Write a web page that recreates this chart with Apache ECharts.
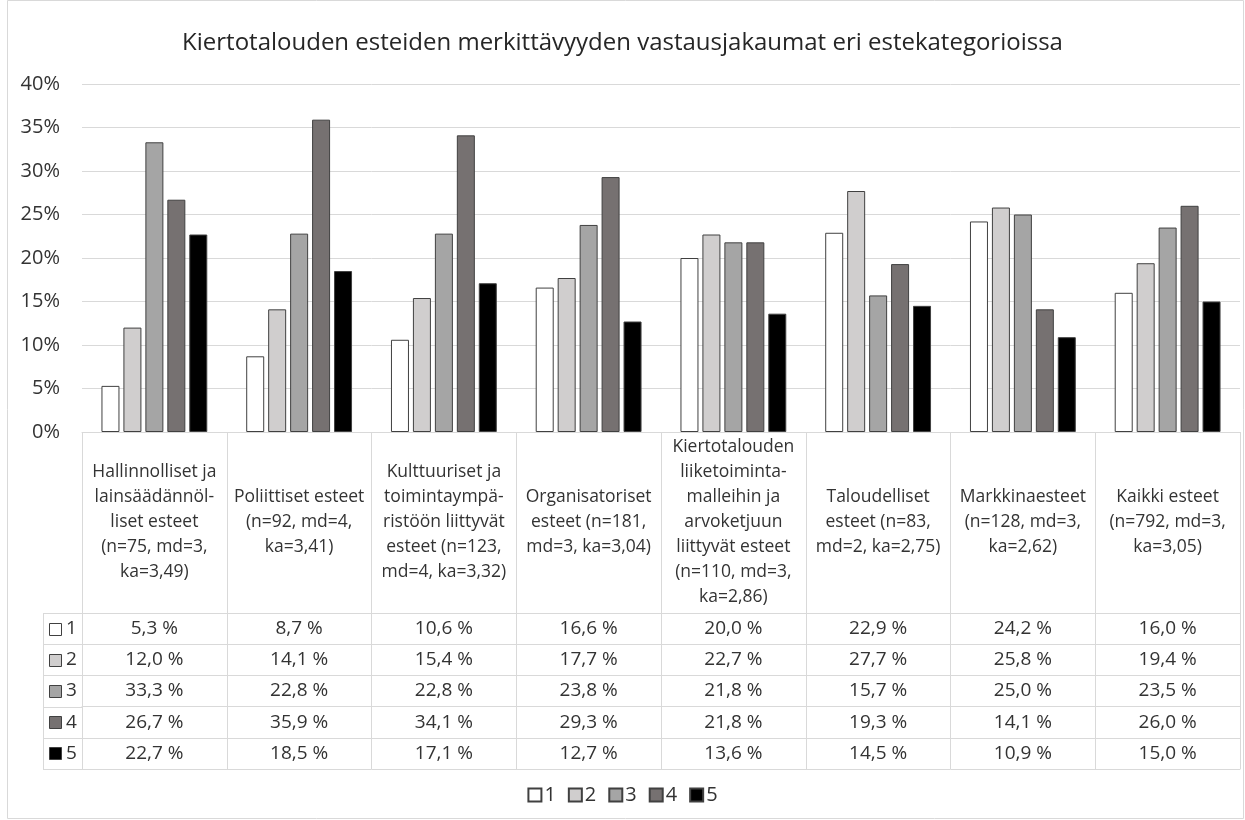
<!DOCTYPE html>
<html>
<head>
<meta charset="utf-8">
<script src="https://cdn.jsdelivr.net/npm/echarts@6/dist/echarts.min.js"></script>
<style>
  html, body { margin: 0; padding: 0; background: #fff; }
  #chart { width: 1245px; height: 820px; }
</style>
</head>
<body>
<div id="chart"></div>
<script>
const categories = [
  'Hallinnolliset ja\nlainsäädännöl-\nliset esteet\n(n=75, md=3,\nka=3,49)',
  'Poliittiset esteet\n(n=92, md=4,\nka=3,41)',
  'Kulttuuriset ja\ntoimintaympä-\nristöön liittyvät\nesteet (n=123,\nmd=4, ka=3,32)',
  'Organisatoriset\nesteet (n=181,\nmd=3, ka=3,04)',
  'Kiertotalouden\nliiketoiminta-\nmalleihin ja\narvoketjuun\nliittyvät esteet\n(n=110, md=3,\nka=2,86)',
  'Taloudelliset\nesteet (n=83,\nmd=2, ka=2,75)',
  'Markkinaesteet\n(n=128, md=3,\nka=2,62)',
  'Kaikki esteet\n(n=792, md=3,\nka=3,05)'
];
const seriesNames = ['1', '2', '3', '4', '5'];
const s1 = [5.3, 8.7, 10.6, 16.6, 20.0, 22.9, 24.2, 16.0];
const s2 = [12.0, 14.1, 15.4, 17.7, 22.7, 27.7, 25.8, 19.4];
const s3 = [33.3, 22.8, 22.8, 23.8, 21.8, 15.7, 25.0, 23.5];
const s4 = [26.7, 35.9, 34.1, 29.3, 21.8, 19.3, 14.1, 26.0];
const s5 = [22.7, 18.5, 17.1, 12.7, 13.6, 14.5, 10.9, 15.0];
const rows = [s1, s2, s3, s4, s5];
const colors = ['#ffffff', '#d0cece', '#a5a5a5', '#767171', '#000000'];

const FONT = "'Open Sans', 'Noto Sans', sans-serif";
const TEXT = '#404040';
const LINE = '#d9d9d9';

// layout of the plot + table
const gridLeft = 82, gridRight = 5, gridTop = 84, gridBottomY = 432;
const headerH = 181, rowH = 31.2;
const keyLeft = 43;

const fmt = v => v.toFixed(1).replace('.', ',') + ' %';

const chart = echarts.init(document.getElementById('chart'));

// one axis per table row, stacked below the category header
const tableAxes = [];
for (let i = 0; i <= rows.length; i++) {
  tableAxes.push({
    type: 'category',
    gridIndex: 0,
    position: 'bottom',
    offset: headerH + rowH * i,
    data: categories,
    axisLine: { show: true, lineStyle: { color: LINE, width: 1 } },
    axisTick: { show: false },
    axisLabel: {
      show: i < rows.length,
      interval: 0,
      margin: rowH / 2,
      verticalAlign: 'middle',
      formatter: (v, idx) => (i < rows.length ? '{v|' + fmt(rows[i][idx]) + '}' : ''),
      rich: {
        v: { fontFamily: FONT, fontSize: 19, color: '#333', lineHeight: 20 }
      }
    }
  });
}

// legend key column of the table
const graphics = [];
const tableTop = gridBottomY + headerH;
for (let i = 0; i <= rows.length; i++) {
  const y = Math.round(tableTop + rowH * i) + 0.5;
  graphics.push({
    type: 'line', silent: true,
    shape: { x1: keyLeft, y1: y, x2: gridLeft, y2: y },
    style: { stroke: LINE, lineWidth: 1 }
  });
}
graphics.push({
  type: 'line', silent: true,
  shape: { x1: keyLeft + 0.5, y1: tableTop, x2: keyLeft + 0.5, y2: tableTop + rowH * rows.length },
  style: { stroke: LINE, lineWidth: 1 }
});
seriesNames.forEach((n, i) => {
  const cy = tableTop + rowH * i + rowH / 2;
  graphics.push({
    type: 'rect', silent: true,
    shape: { x: 49.5, y: Math.round(cy - 6) + 0.5, width: 12, height: 12 },
    style: { fill: colors[i], stroke: TEXT, lineWidth: 1 }
  });
  graphics.push({
    type: 'text', silent: true, x: 66, y: cy,
    style: { text: n, fill: '#333', font: '19px ' + FONT, verticalAlign: 'middle' }
  });
});
// outer chart frame
graphics.push({
  type: 'rect', silent: true,
  shape: { x: 7.5, y: 0.5, width: 1236, height: 818 },
  style: { fill: 'none', stroke: LINE, lineWidth: 1 }
});

const option = {
  backgroundColor: '#fff',
  animation: false,
  title: {
    text: 'Kiertotalouden esteiden merkittävyyden vastausjakaumat eri estekategorioissa',
    left: 'center',
    top: 26,
    padding: [5, 5, 5, 25],
    textStyle: { fontFamily: FONT, fontSize: 24, fontWeight: 'normal', color: '#262626' }
  },
  legend: {
    data: seriesNames,
    bottom: 10,
    left: 'center',
    icon: 'rect',
    itemWidth: 13,
    itemHeight: 13,
    itemGap: 12,
    textStyle: { fontFamily: FONT, fontSize: 20, color: '#333', padding: [0, 0, 0, -2] }
  },
  grid: {
    left: gridLeft,
    right: gridRight,
    top: gridTop,
    bottom: 820 - gridBottomY,
    containLabel: false
  },
  xAxis: [
    {
      type: 'category',
      gridIndex: 0,
      data: categories,
      axisLine: { show: true, lineStyle: { color: LINE, width: 1 } },
      axisTick: {
        show: true,
        alignWithLabel: false,
        length: headerH + rowH * rows.length,
        lineStyle: { color: LINE, width: 1 }
      },
      axisLabel: {
        interval: 0,
        margin: headerH / 2,
        verticalAlign: 'middle',
        color: '#333',
        fontFamily: FONT,
        fontSize: 17.5,
        lineHeight: 25
      }
    }
  ].concat(tableAxes),
  yAxis: {
    type: 'value',
    min: 0,
    max: 40,
    interval: 5,
    axisLine: { show: false },
    axisTick: { show: false },
    axisLabel: {
      formatter: '{value}%',
      margin: 22,
      color: '#333',
      fontFamily: FONT,
      fontSize: 20
    },
    splitLine: { lineStyle: { color: LINE, width: 1 } }
  },
  series: rows.map((data, i) => ({
    name: seriesNames[i],
    type: 'bar',
    xAxisIndex: 0,
    data: data,
    barWidth: 18,
    barGap: '22%',
    itemStyle: { color: colors[i], borderColor: TEXT, borderWidth: 1 }
  })),
  graphic: graphics
};

chart.setOption(option);
</script>
</body>
</html>
